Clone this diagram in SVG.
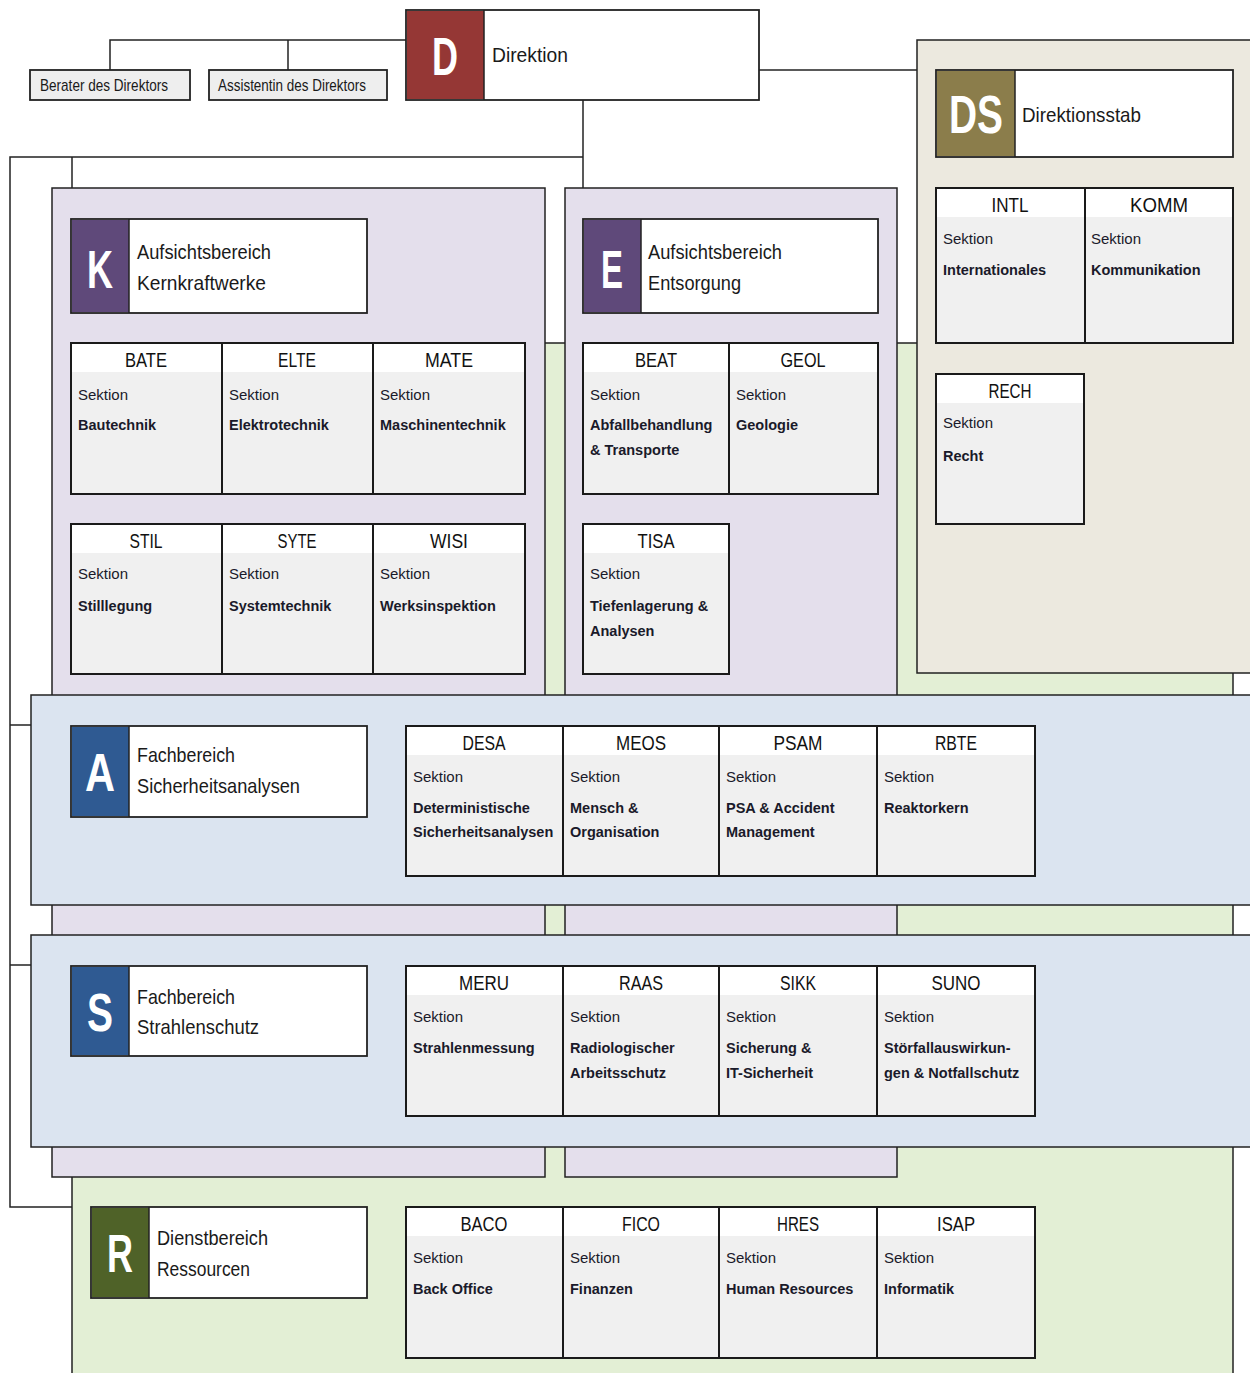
<svg xmlns="http://www.w3.org/2000/svg" width="1250" height="1373" viewBox="0 0 1250 1373">
<style>
.bg{fill:#ffffff}
.pan{stroke:#222;stroke-width:1.5}
.green{fill:#E3EFD5}
.lav{fill:#E4DFEC}
.blue{fill:#DBE4F0}
.beige{fill:#ECE9DF}
.conn{fill:none;stroke:#222;stroke-width:1.5}
.hbox{fill:#fff;stroke:#222;stroke-width:1.8}
.big{font-family:"Liberation Sans",sans-serif;font-weight:bold;fill:#fff;text-anchor:middle}
.ht{font-family:"Liberation Sans",sans-serif;font-size:21px;fill:#1a1a1a}
.secb{fill:#F0F0F0;stroke:#1a1a1a;stroke-width:2}
.sech{fill:#fff}
.code{font-family:"Liberation Sans",sans-serif;font-size:21px;fill:#111;text-anchor:middle}
.sk{font-family:"Liberation Sans",sans-serif;font-size:15px;fill:#1a1a2a}
.nm{font-family:"Liberation Sans",sans-serif;font-size:14.5px;font-weight:bold;fill:#1a1a2a}
.small{fill:#EEEEEE;stroke:#222;stroke-width:1.8}
.st{font-family:"Liberation Sans",sans-serif;font-size:17px;fill:#1a1a1a}
</style>
<rect class="bg" x="0" y="0" width="1250" height="1373"/>

<g id="panels">
<rect id="panel-R" class="pan green" x="72" y="343" width="1161" height="1040"/>
<rect id="panel-DS" class="pan beige" x="917" y="40" width="345" height="633"/>
<rect id="panel-K" class="pan lav" x="52" y="188" width="493" height="989"/>
<rect id="panel-E" class="pan lav" x="565" y="188" width="332" height="989"/>
<rect id="panel-A" class="pan blue" x="31" y="695" width="1231" height="210"/>
<rect id="panel-S" class="pan blue" x="31" y="935" width="1231" height="212"/>
</g>

<g id="connectors">
<path class="conn" d="M110 70 V40 H406"/>
<path class="conn" d="M288 40 V70"/>
<path class="conn" d="M759 70 H917"/>
<path class="conn" d="M583 100 V188"/>
<path class="conn" d="M583 157 H10 V1207 H72"/>
<path class="conn" d="M72 157 V188"/>
<path class="conn" d="M10 725 H31"/>
<path class="conn" d="M10 965 H31"/>
</g>

<g id="berater"><rect class="small" x="30" y="70" width="160" height="30"/><text class="st" x="40" y="91" textLength="128" lengthAdjust="spacingAndGlyphs">Berater des Direktors</text></g>
<g id="assistentin"><rect class="small" x="209" y="70" width="178" height="30"/><text class="st" x="218" y="91" textLength="148" lengthAdjust="spacingAndGlyphs">Assistentin des Direktors</text></g>

<g id="D"><rect class="hbox" x="406" y="10" width="353" height="90"/><rect x="407" y="11" width="77" height="88" fill="#953735"/><line x1="484" y1="10" x2="484" y2="100" stroke="#222" stroke-width="1.5"/><text class="big" x="445" y="75" font-size="54" textLength="26" lengthAdjust="spacingAndGlyphs">D</text><text class="ht" x="492" y="62" textLength="76" lengthAdjust="spacingAndGlyphs">Direktion</text></g>

<g id="DS"><rect class="hbox" x="936" y="70" width="297" height="87"/><rect x="937" y="71" width="78" height="85" fill="#8B7D4B"/><line x1="1015" y1="70" x2="1015" y2="157" stroke="#222" stroke-width="1.5"/><text class="big" x="976" y="133" font-size="54" textLength="54" lengthAdjust="spacingAndGlyphs">DS</text><text class="ht" x="1022" y="122" textLength="119" lengthAdjust="spacingAndGlyphs">Direktionsstab</text></g>

<g id="K"><rect class="hbox" x="71" y="219" width="296" height="94"/><rect x="72" y="220" width="57" height="92" fill="#5F497A"/><line x1="129" y1="219" x2="129" y2="313" stroke="#222" stroke-width="1.5"/><text class="big" x="100" y="288" font-size="54" textLength="26" lengthAdjust="spacingAndGlyphs">K</text><text class="ht" x="137" y="259" textLength="134" lengthAdjust="spacingAndGlyphs">Aufsichtsbereich</text><text class="ht" x="137" y="290" textLength="129" lengthAdjust="spacingAndGlyphs">Kernkraftwerke</text></g>

<g id="E"><rect class="hbox" x="583" y="219" width="295" height="94"/><rect x="584" y="220" width="57" height="92" fill="#5F497A"/><line x1="641" y1="219" x2="641" y2="313" stroke="#222" stroke-width="1.5"/><text class="big" x="612" y="288" font-size="54" textLength="22" lengthAdjust="spacingAndGlyphs">E</text><text class="ht" x="648" y="259" textLength="134" lengthAdjust="spacingAndGlyphs">Aufsichtsbereich</text><text class="ht" x="648" y="290" textLength="93" lengthAdjust="spacingAndGlyphs">Entsorgung</text></g>

<g id="A"><rect class="hbox" x="71" y="726" width="296" height="91"/><rect x="72" y="727" width="57" height="89" fill="#2F5A92"/><line x1="129" y1="726" x2="129" y2="817" stroke="#222" stroke-width="1.5"/><text class="big" x="100" y="791" font-size="54" textLength="30" lengthAdjust="spacingAndGlyphs">A</text><text class="ht" x="137" y="762" textLength="98" lengthAdjust="spacingAndGlyphs">Fachbereich</text><text class="ht" x="137" y="793" textLength="163" lengthAdjust="spacingAndGlyphs">Sicherheitsanalysen</text></g>

<g id="S"><rect class="hbox" x="71" y="966" width="296" height="90"/><rect x="72" y="967" width="57" height="88" fill="#2F5A92"/><line x1="129" y1="966" x2="129" y2="1056" stroke="#222" stroke-width="1.5"/><text class="big" x="100" y="1031" font-size="54" textLength="26" lengthAdjust="spacingAndGlyphs">S</text><text class="ht" x="137" y="1004" textLength="98" lengthAdjust="spacingAndGlyphs">Fachbereich</text><text class="ht" x="137" y="1034" textLength="122" lengthAdjust="spacingAndGlyphs">Strahlenschutz</text></g>

<g id="R"><rect class="hbox" x="91" y="1207" width="276" height="91"/><rect x="92" y="1208" width="57" height="89" fill="#4F6228"/><line x1="149" y1="1207" x2="149" y2="1298" stroke="#222" stroke-width="1.5"/><text class="big" x="120" y="1272" font-size="54" textLength="26" lengthAdjust="spacingAndGlyphs">R</text><text class="ht" x="157" y="1245" textLength="111" lengthAdjust="spacingAndGlyphs">Dienstbereich</text><text class="ht" x="157" y="1276" textLength="93" lengthAdjust="spacingAndGlyphs">Ressourcen</text></g>

<g id="INTL"><rect class="secb" x="936" y="188" width="149" height="155"/><rect class="sech" x="937" y="189" width="147" height="28"/><text class="code" x="1010" y="212" textLength="37" lengthAdjust="spacingAndGlyphs">INTL</text><text class="sk" x="943" y="244">Sektion</text><text class="nm" x="943" y="275">Internationales</text></g>
<g id="KOMM"><rect class="secb" x="1085" y="188" width="148" height="155"/><rect class="sech" x="1086" y="189" width="146" height="28"/><text class="code" x="1159" y="212" textLength="58" lengthAdjust="spacingAndGlyphs">KOMM</text><text class="sk" x="1091" y="244">Sektion</text><text class="nm" x="1091" y="275">Kommunikation</text></g>
<g id="RECH"><rect class="secb" x="936" y="374" width="148" height="150"/><rect class="sech" x="937" y="375" width="146" height="28"/><text class="code" x="1010" y="398" textLength="43" lengthAdjust="spacingAndGlyphs">RECH</text><text class="sk" x="943" y="428">Sektion</text><text class="nm" x="943" y="461">Recht</text></g>

<g id="BATE"><rect class="secb" x="71" y="343" width="151" height="151"/><rect class="sech" x="72" y="344" width="149" height="28"/><text class="code" x="146" y="367" textLength="42" lengthAdjust="spacingAndGlyphs">BATE</text><text class="sk" x="78" y="400">Sektion</text><text class="nm" x="78" y="430">Bautechnik</text></g>
<g id="ELTE"><rect class="secb" x="222" y="343" width="151" height="151"/><rect class="sech" x="223" y="344" width="149" height="28"/><text class="code" x="297" y="367" textLength="38" lengthAdjust="spacingAndGlyphs">ELTE</text><text class="sk" x="229" y="400">Sektion</text><text class="nm" x="229" y="430">Elektrotechnik</text></g>
<g id="MATE"><rect class="secb" x="373" y="343" width="152" height="151"/><rect class="sech" x="374" y="344" width="150" height="28"/><text class="code" x="449" y="367" textLength="48" lengthAdjust="spacingAndGlyphs">MATE</text><text class="sk" x="380" y="400">Sektion</text><text class="nm" x="380" y="430">Maschinentechnik</text></g>

<g id="STIL"><rect class="secb" x="71" y="524" width="151" height="150"/><rect class="sech" x="72" y="525" width="149" height="28"/><text class="code" x="146" y="548" textLength="33" lengthAdjust="spacingAndGlyphs">STIL</text><text class="sk" x="78" y="579">Sektion</text><text class="nm" x="78" y="611">Stilllegung</text></g>
<g id="SYTE"><rect class="secb" x="222" y="524" width="151" height="150"/><rect class="sech" x="223" y="525" width="149" height="28"/><text class="code" x="297" y="548" textLength="39" lengthAdjust="spacingAndGlyphs">SYTE</text><text class="sk" x="229" y="579">Sektion</text><text class="nm" x="229" y="611">Systemtechnik</text></g>
<g id="WISI"><rect class="secb" x="373" y="524" width="152" height="150"/><rect class="sech" x="374" y="525" width="150" height="28"/><text class="code" x="449" y="548" textLength="38" lengthAdjust="spacingAndGlyphs">WISI</text><text class="sk" x="380" y="579">Sektion</text><text class="nm" x="380" y="611">Werksinspektion</text></g>

<g id="BEAT"><rect class="secb" x="583" y="343" width="146" height="151"/><rect class="sech" x="584" y="344" width="144" height="28"/><text class="code" x="656" y="367" textLength="42" lengthAdjust="spacingAndGlyphs">BEAT</text><text class="sk" x="590" y="400">Sektion</text><text class="nm" x="590" y="430">Abfallbehandlung</text><text class="nm" x="590" y="455">&amp; Transporte</text></g>
<g id="GEOL"><rect class="secb" x="729" y="343" width="149" height="151"/><rect class="sech" x="730" y="344" width="147" height="28"/><text class="code" x="803" y="367" textLength="45" lengthAdjust="spacingAndGlyphs">GEOL</text><text class="sk" x="736" y="400">Sektion</text><text class="nm" x="736" y="430">Geologie</text></g>
<g id="TISA"><rect class="secb" x="583" y="524" width="146" height="150"/><rect class="sech" x="584" y="525" width="144" height="28"/><text class="code" x="656" y="548" textLength="37" lengthAdjust="spacingAndGlyphs">TISA</text><text class="sk" x="590" y="579">Sektion</text><text class="nm" x="590" y="611">Tiefenlagerung &amp;</text><text class="nm" x="590" y="636">Analysen</text></g>

<g id="DESA"><rect class="secb" x="406" y="726" width="157" height="150"/><rect class="sech" x="407" y="727" width="155" height="28"/><text class="code" x="484" y="750" textLength="43" lengthAdjust="spacingAndGlyphs">DESA</text><text class="sk" x="413" y="782">Sektion</text><text class="nm" x="413" y="813">Deterministische</text><text class="nm" x="413" y="837">Sicherheitsanalysen</text></g>
<g id="MEOS"><rect class="secb" x="563" y="726" width="156" height="150"/><rect class="sech" x="564" y="727" width="154" height="28"/><text class="code" x="641" y="750" textLength="50" lengthAdjust="spacingAndGlyphs">MEOS</text><text class="sk" x="570" y="782">Sektion</text><text class="nm" x="570" y="813">Mensch &amp;</text><text class="nm" x="570" y="837">Organisation</text></g>
<g id="PSAM"><rect class="secb" x="719" y="726" width="158" height="150"/><rect class="sech" x="720" y="727" width="156" height="28"/><text class="code" x="798" y="750" textLength="49" lengthAdjust="spacingAndGlyphs">PSAM</text><text class="sk" x="726" y="782">Sektion</text><text class="nm" x="726" y="813">PSA &amp; Accident</text><text class="nm" x="726" y="837">Management</text></g>
<g id="RBTE"><rect class="secb" x="877" y="726" width="158" height="150"/><rect class="sech" x="878" y="727" width="156" height="28"/><text class="code" x="956" y="750" textLength="42" lengthAdjust="spacingAndGlyphs">RBTE</text><text class="sk" x="884" y="782">Sektion</text><text class="nm" x="884" y="813">Reaktorkern</text></g>

<g id="MERU"><rect class="secb" x="406" y="966" width="157" height="150"/><rect class="sech" x="407" y="967" width="155" height="28"/><text class="code" x="484" y="990" textLength="50" lengthAdjust="spacingAndGlyphs">MERU</text><text class="sk" x="413" y="1022">Sektion</text><text class="nm" x="413" y="1053">Strahlenmessung</text></g>
<g id="RAAS"><rect class="secb" x="563" y="966" width="156" height="150"/><rect class="sech" x="564" y="967" width="154" height="28"/><text class="code" x="641" y="990" textLength="44" lengthAdjust="spacingAndGlyphs">RAAS</text><text class="sk" x="570" y="1022">Sektion</text><text class="nm" x="570" y="1053">Radiologischer</text><text class="nm" x="570" y="1078">Arbeitsschutz</text></g>
<g id="SIKK"><rect class="secb" x="719" y="966" width="158" height="150"/><rect class="sech" x="720" y="967" width="156" height="28"/><text class="code" x="798" y="990" textLength="36" lengthAdjust="spacingAndGlyphs">SIKK</text><text class="sk" x="726" y="1022">Sektion</text><text class="nm" x="726" y="1053">Sicherung &amp;</text><text class="nm" x="726" y="1078">IT-Sicherheit</text></g>
<g id="SUNO"><rect class="secb" x="877" y="966" width="158" height="150"/><rect class="sech" x="878" y="967" width="156" height="28"/><text class="code" x="956" y="990" textLength="49" lengthAdjust="spacingAndGlyphs">SUNO</text><text class="sk" x="884" y="1022">Sektion</text><text class="nm" x="884" y="1053">Störfallauswirkun-</text><text class="nm" x="884" y="1078">gen &amp; Notfallschutz</text></g>

<g id="BACO"><rect class="secb" x="406" y="1207" width="157" height="151"/><rect class="sech" x="407" y="1208" width="155" height="28"/><text class="code" x="484" y="1231" textLength="47" lengthAdjust="spacingAndGlyphs">BACO</text><text class="sk" x="413" y="1263">Sektion</text><text class="nm" x="413" y="1294">Back Office</text></g>
<g id="FICO"><rect class="secb" x="563" y="1207" width="156" height="151"/><rect class="sech" x="564" y="1208" width="154" height="28"/><text class="code" x="641" y="1231" textLength="38" lengthAdjust="spacingAndGlyphs">FICO</text><text class="sk" x="570" y="1263">Sektion</text><text class="nm" x="570" y="1294">Finanzen</text></g>
<g id="HRES"><rect class="secb" x="719" y="1207" width="158" height="151"/><rect class="sech" x="720" y="1208" width="156" height="28"/><text class="code" x="798" y="1231" textLength="42" lengthAdjust="spacingAndGlyphs">HRES</text><text class="sk" x="726" y="1263">Sektion</text><text class="nm" x="726" y="1294">Human Resources</text></g>
<g id="ISAP"><rect class="secb" x="877" y="1207" width="158" height="151"/><rect class="sech" x="878" y="1208" width="156" height="28"/><text class="code" x="956" y="1231" textLength="38" lengthAdjust="spacingAndGlyphs">ISAP</text><text class="sk" x="884" y="1263">Sektion</text><text class="nm" x="884" y="1294">Informatik</text></g>
</svg>
